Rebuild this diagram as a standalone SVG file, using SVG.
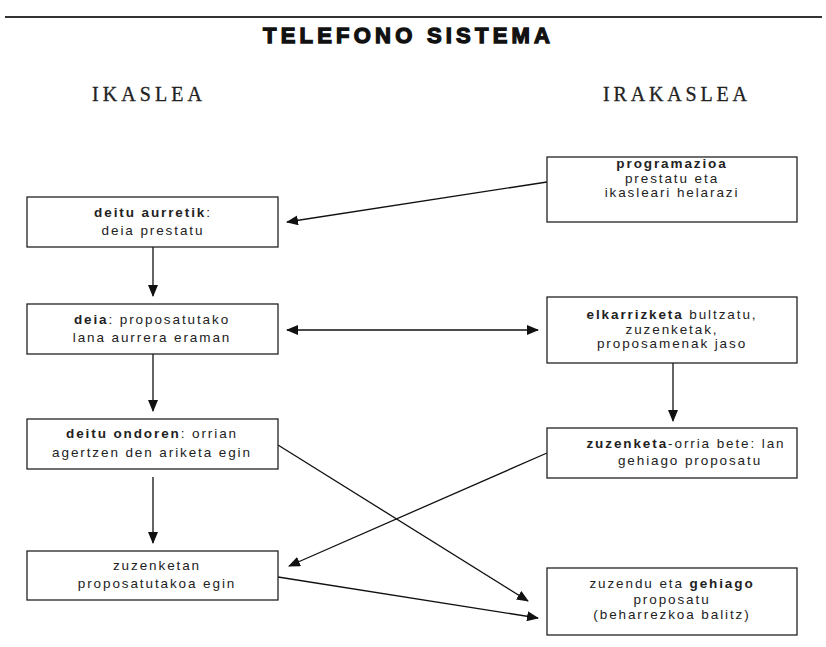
<svg xmlns="http://www.w3.org/2000/svg" width="826" height="647" viewBox="0 0 826 647">
<defs>
<marker id="ah" markerWidth="12" markerHeight="10" refX="11" refY="5" orient="auto" markerUnits="userSpaceOnUse">
<path d="M0,0 L12,5 L0,10 Z" fill="#111"/>
</marker>
<marker id="ahs" markerWidth="12" markerHeight="10" refX="1" refY="5" orient="auto" markerUnits="userSpaceOnUse">
<path d="M12,0 L0,5 L12,10 Z" fill="#111"/>
</marker>
</defs>
<style>
.box{fill:#fff;stroke:#222;stroke-width:1.3}
.t{font-family:"Liberation Sans",Arial,sans-serif;font-size:13.5px;letter-spacing:1.9px;fill:#222;text-anchor:middle}
.b{font-weight:bold}
.c{fill:none;stroke:#111;stroke-width:1.3}
.h{font-family:"Liberation Serif","Times New Roman",serif;font-size:20px;fill:#222;stroke:#222;stroke-width:0.3}
</style>
<rect width="826" height="647" fill="#fff"/>
<line x1="5" y1="17" x2="822" y2="17" stroke="#333" stroke-width="2"/>
<text x="263" y="43" font-family="'Liberation Sans',Arial,sans-serif" font-size="22" font-weight="bold" stroke="#111" stroke-width="1.3" fill="#111" textLength="287" lengthAdjust="spacing">TELEFONO SISTEMA</text>
<text class="h" x="92" y="101" textLength="110" lengthAdjust="spacing">IKASLEA</text>
<text class="h" x="603" y="101" textLength="144" lengthAdjust="spacing">IRAKASLEA</text>

<g id="connectors">
<line class="c" x1="547" y1="182" x2="287" y2="222" marker-end="url(#ah)"/>
<line class="c" x1="153" y1="247" x2="153" y2="296" marker-end="url(#ah)"/>
<line class="c" x1="287" y1="330" x2="538" y2="330" marker-start="url(#ahs)" marker-end="url(#ah)"/>
<line class="c" x1="153" y1="354" x2="153" y2="411" marker-end="url(#ah)"/>
<line class="c" x1="673" y1="363" x2="673" y2="421" marker-end="url(#ah)"/>
<line class="c" x1="153" y1="477" x2="153" y2="543" marker-end="url(#ah)"/>
<line class="c" x1="278" y1="445" x2="528" y2="601" marker-end="url(#ah)"/>
<line class="c" x1="547" y1="453" x2="289" y2="566" marker-end="url(#ah)"/>
<line class="c" x1="278" y1="577" x2="538" y2="618" marker-end="url(#ah)"/>
</g>

<g id="n-deitu-aurretik">
<rect class="box" x="27" y="197" width="251" height="50"/>
<text class="t" x="153" y="217"><tspan class="b">deitu aurretik</tspan>:</text>
<text class="t" x="153" y="235">deia prestatu</text>
</g>
<g id="n-deia">
<rect class="box" x="27" y="304" width="251" height="50"/>
<text class="t" x="152" y="324"><tspan class="b">deia</tspan>: proposatutako</text>
<text class="t" x="152" y="342">lana aurrera eraman</text>
</g>
<g id="n-deitu-ondoren">
<rect class="box" x="27" y="419" width="251" height="50"/>
<text class="t" x="152" y="438"><tspan class="b">deitu ondoren</tspan>: orrian</text>
<text class="t" x="152" y="457">agertzen den ariketa egin</text>
</g>
<g id="n-zuzenketan">
<rect class="box" x="27" y="551" width="251" height="49"/>
<text class="t" x="157" y="570">zuzenketan</text>
<text class="t" x="157" y="588">proposatutakoa egin</text>
</g>
<g id="n-programazioa">
<rect class="box" x="547" y="157" width="250" height="65"/>
<text class="t" x="672" y="168"><tspan class="b">programazioa</tspan></text>
<text class="t" x="672" y="183">prestatu eta</text>
<text class="t" x="672" y="197">ikasleari helarazi</text>
</g>
<g id="n-elkarrizketa">
<rect class="box" x="547" y="297" width="250" height="66"/>
<text class="t" x="672" y="319"><tspan class="b">elkarrizketa</tspan> bultzatu,</text>
<text class="t" x="672" y="334">zuzenketak,</text>
<text class="t" x="672" y="348">proposamenak jaso</text>
</g>
<g id="n-zuzenketa-orria">
<rect class="box" x="547" y="428" width="250" height="50"/>
<text class="t" x="686" y="448"><tspan class="b">zuzenketa</tspan>-orria bete: lan</text>
<text class="t" x="690" y="465">gehiago proposatu</text>
</g>
<g id="n-zuzendu">
<rect class="box" x="547" y="568" width="250" height="67"/>
<text class="t" x="672" y="588">zuzendu eta <tspan class="b">gehiago</tspan></text>
<text class="t" x="672" y="604">proposatu</text>
<text class="t" x="672" y="619">(beharrezkoa  balitz)</text>
</g>
</svg>
